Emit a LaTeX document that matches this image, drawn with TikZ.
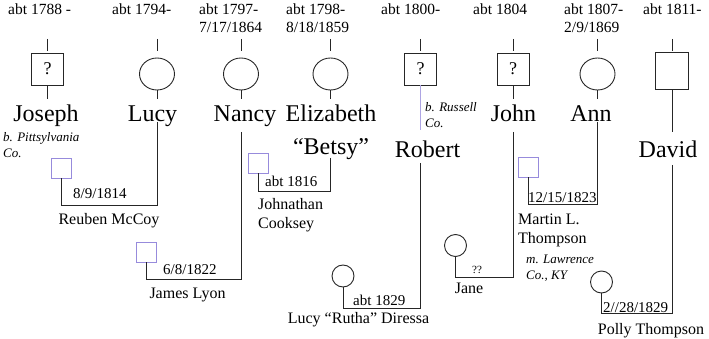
\documentclass[tikz,border=0pt]{standalone}
\usepackage[svgnames]{xcolor}
\usepackage{fontspec}
\setmainfont{Liberation Serif}
\usepackage{tikz}
\usetikzlibrary{
  shapes.geometric
}
\colorlet{inlaw}{SlateBlue!70}
\colorlet{noteRule}{SlateBlue!55}
\colorlet{treeLine}{black!85}
\tikzset{
  every person/.style={draw=treeLine,line width=0.9pt,inner sep=0pt},
  male/.style={every person,rectangle,minimum size=32pt,font=\fontsize{18}{20}\selectfont},
  female/.style={every person,ellipse,minimum width=35pt,minimum height=32pt},
  inlaw male/.style={draw=inlaw,line width=0.9pt,rectangle,minimum size=20pt,inner sep=0pt},
  inlaw female/.style={every person,circle,minimum size=22pt},
  link/.style={draw=treeLine,line width=0.9pt},
}

\begin{document}
\begin{tikzpicture}[
  x=1pt,y=-1pt,
  life/.style={font=\fontsize{15.5}{18}\selectfont,inner sep=0pt,align=left,anchor=base west},
  child name/.style={font=\fontsize{24}{33}\selectfont,inner sep=0pt,align=center,anchor=base},
  inlaw name/.style={font=\fontsize{16}{19}\selectfont,inner sep=0pt,align=left},
  wed date/.style={font=\fontsize{15}{18}\selectfont,inner sep=0pt,anchor=base west},
  place note/.style={font=\fontsize{13}{16}\selectfont\itshape,inner sep=0pt,align=left,anchor=base west},
]
\useasboundingbox (0,0) rectangle (709,339);

% lifespans (base = last line)
\node[life] (josephLife) at (8,15) {abt 1788 -};
\node[life] (lucyLife) at (112,15) {abt 1794-};
\node[life] (nancyLife) at (199,33) {abt 1797-\\7/17/1864};
\node[life] (betsyLife) at (286,33) {abt 1798-\\8/18/1859};
\node[life] (robertLife) at (381,15) {abt 1800-};
\node[life] (johnLife) at (473,15) {abt 1804};
\node[life] (annLife) at (564,33) {abt 1807-\\2/9/1869};
\node[life] (davidLife) at (643,15) {abt 1811-};

% the children
\node[male] (joseph) at (47.5,69) {?};
\node[female] (lucy) at (157,74) {};
\node[female] (nancy) at (241,74) {};
\node[female] (betsy) at (330.5,74) {};
\node[male] (robert) at (420.5,69) {?};
\node[male] (john) at (513,69) {?};
\node[female] (ann) at (597.5,74) {};
\node[male,minimum width=33pt,minimum height=37pt] (david) at (672,70.5) {};

\foreach \p in {joseph,lucy,nancy,betsy,robert,john,ann,david}
  \draw[link] (\p |- 0,39) -- (\p |- 0,51);
\foreach \p in {joseph,lucy,nancy,betsy,john,ann}
  \draw[link] (\p.south) -- (\p |- 0,99);
\draw[noteRule,line width=0.9pt] (robert.south) -- (robert |- 0,130);
\draw[link] (david.south) -- (david |- 0,132);

\node[child name] (josephName) at (46,122) {Joseph};
\node[child name] (lucyName) at (152.5,122) {Lucy};
\node[child name] (nancyName) at (245,122) {Nancy};
\node[child name] (betsyName) at (331,155) {Elizabeth\\``Betsy''};
\node[child name] (robertName) at (427.5,158) {Robert};
\node[child name] (johnName) at (513.5,122) {John};
\node[child name] (annName) at (591,122) {Ann};
\node[child name] (davidName) at (668,158) {David};

\node[place note] (josephBorn) at (3,158) {b. Pittsylvania\\Co.};
\node[place note] (robertBorn) at (425,128) {b. Russell\\Co.};

% spouses
\node[inlaw male] (reuben) at (61,168) {};
\node[inlaw male] (james) at (146,252) {};
\node[inlaw male] (johnathan) at (258,163) {};
\node[inlaw female] (rutha) at (343,276) {};
\node[inlaw female] (jane) at (455.5,245.5) {};
\node[inlaw male] (martin) at (528,167) {};
\node[inlaw female] (polly) at (601.5,282) {};

\draw[link] (lucy |- lucyName.base) |- (reuben |- 0,205) -- (reuben.south);
\draw[link] (nancy |- 0,132) |- (james |- 0,279) -- (james.south);
\draw[link] (betsy |- 0,158) |- (johnathan |- 0,191) -- (johnathan.south);
\draw[link] (robert |- 0,163) |- (rutha |- 0,308) -- (rutha.south);
\draw[link] (john |- 0,132) |- (jane |- 0,277) -- (jane.south);
\draw[link] (ann |- annName.base) |- (martin |- 0,204) -- (martin.south);
\draw[link] (david |- 0,165) |- (polly |- 0,313) -- (polly.south);

\node[wed date] (lucyWed) at (73,199) {8/9/1814};
\node[wed date] (nancyWed) at (163,274) {6/8/1822};
\node[wed date] (betsyWed) at (265,187) {abt 1816};
\node[wed date] (robertWed) at (353,305) {abt 1829};
\node[wed date,font=\fontsize{11}{13}\selectfont] (johnWed) at (472,273) {??};
\node[wed date] (annWed) at (528,202) {12/15/1823};
\node[wed date] (davidWed) at (603,312) {2//28/1829};

\node[inlaw name,anchor=base] (reubenName) at (109,224) {Reuben McCoy};
\node[inlaw name,anchor=base] (jamesName) at (187.5,298) {James Lyon};
\node[inlaw name,anchor=base west] (johnathanName) at (258,229) {Johnathan\\Cooksey};
\node[inlaw name,anchor=base] (ruthaName) at (358.5,323) {Lucy ``Rutha'' Diressa};
\node[inlaw name,anchor=base] (janeName) at (469,293) {Jane};
\node[inlaw name,anchor=base west] (martinName) at (518,243) {Martin L.\\Thompson};
\node[place note] (annWedPlace) at (526,279) {m. Lawrence\\Co., KY};
\node[inlaw name,anchor=base] (pollyName) at (651,334) {Polly Thompson};
\end{tikzpicture}
\end{document}
